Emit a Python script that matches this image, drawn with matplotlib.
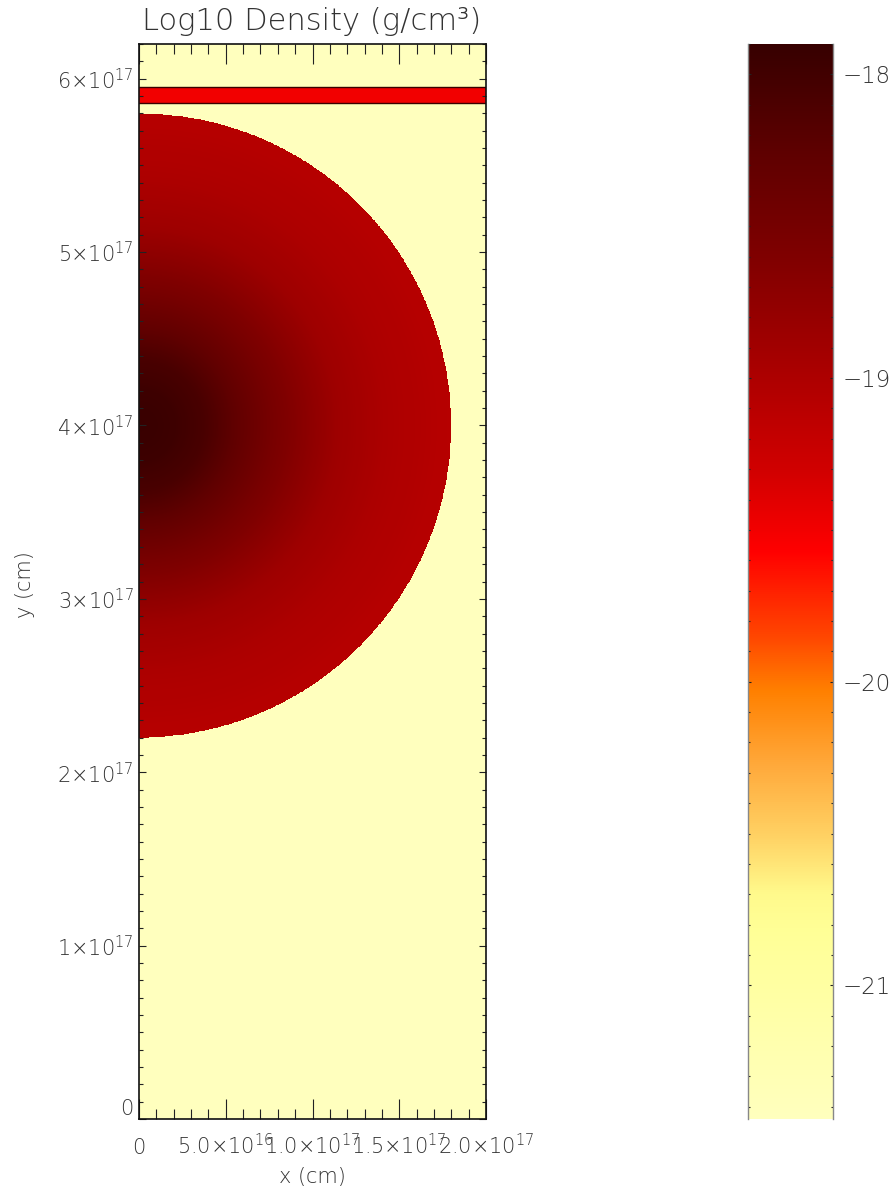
import numpy as np
import matplotlib
matplotlib.use("Agg")
import matplotlib.pyplot as plt
from matplotlib.colors import LinearSegmentedColormap
from matplotlib.ticker import MultipleLocator

plt.rcParams['font.family'] = ['DejaVu Sans']
plt.rcParams['font.weight'] = 'light'
plt.rcParams['mathtext.fontset'] = 'custom'
plt.rcParams['mathtext.rm'] = 'DejaVu Sans:light'
plt.rcParams['mathtext.it'] = 'DejaVu Sans:light'
plt.rcParams['mathtext.bf'] = 'DejaVu Sans:light'

# cloud: radial log-density profile (r in units of 1e17 cm)
profile_r = [0.0, 0.2, 0.38, 0.58, 0.77, 0.96, 1.15, 1.44, 1.8]
profile_logrho = [-17.92, -17.96, -18.07, -18.31, -18.52, -18.70, -18.87, -19.00, -19.08]
cloud_center = (0.0, 4.0e17)
cloud_radius = 1.8e17

# thin dense slab near the top boundary
slab_bounds = (5.86e17, 5.95e17)
slab_logrho = -19.50
ambient_logrho = -21.44

x_range = (0.0, 2.0e17)
y_range = (0.0, 6.2e17)
vmin, vmax = -21.44, -17.90

x_ticks = [0, 5e16, 1e17, 1.5e17, 2e17]
x_labels = ['0', '5.0×10$^{16}$', '1.0×10$^{17}$', '1.5×10$^{17}$', '2.0×10$^{17}$']
y_ticks = [0, 1e17, 2e17, 3e17, 4e17, 5e17, 6e17]
y_labels = ['0'] + ['%d×10$^{17}$' % i for i in range(1, 7)]
cbar_ticks = [-21, -20, -19, -18]
cbar_labels = ['\u221221', '\u221220', '\u221219', '\u221218']

# colour table stops (log density -> colour)
cmap_levels = [-21.44, -20.81, -20.70, -20.51, -20.28, -20.03, -19.85,
               -19.57, -19.31, -18.97, -18.60, -18.26, -17.90]
cmap_colors = ['#ffffbe', '#ffff96', '#fffa8c', '#ffd264', '#ffaa3c', '#ff8000',
               '#ff4600', '#ff0000', '#d20000', '#aa0000', '#800000', '#5f0000',
               '#370000']

pos = [(v - vmin) / (vmax - vmin) for v in cmap_levels]
cmap = LinearSegmentedColormap.from_list('dens', list(zip(pos, cmap_colors)), N=512)

# density grid
nx, ny = 800, 2480
xs = np.linspace(*x_range, nx)
ys = np.linspace(*y_range, ny)
X, Y = np.meshgrid(xs, ys)
R = np.hypot(X - cloud_center[0], Y - cloud_center[1])
field = np.full(X.shape, ambient_logrho)
inside = R <= cloud_radius
field[inside] = np.interp(R[inside] / 1e17, profile_r, profile_logrho)
field[(Y >= slab_bounds[0]) & (Y <= slab_bounds[1])] = slab_logrho

W, H = 893, 1192
fig = plt.figure(figsize=(W / 100, H / 100), dpi=100)
ax = fig.add_axes([139 / W, 73 / H, 347 / W, 1075 / H])
ax.imshow(field, origin='lower', extent=[*x_range, *y_range], cmap=cmap,
          vmin=vmin, vmax=vmax, interpolation='nearest', aspect='auto')
for yb in slab_bounds:
    ax.axhline(yb, color='#3a0000', lw=1.0)
ax.set_xlim(*x_range)
ax.set_ylim(*y_range)

tc = '#333333'
ax.set_xticks(x_ticks, x_labels)
ax.set_yticks(y_ticks, y_labels)
ax.xaxis.set_minor_locator(MultipleLocator(1e16))
ax.yaxis.set_minor_locator(MultipleLocator(1e16))
ax.tick_params(which='both', direction='in', top=True, right=True, colors='#222222',
               labelcolor=tc, labelsize=15, width=0.8)
ax.tick_params(axis='x', which='major', length=14.4, pad=25)
ax.tick_params(axis='x', which='minor', length=7.2)
ax.tick_params(axis='y', which='major', length=5, pad=4)
ax.tick_params(axis='y', which='minor', length=2.8)
# put all x labels on a common baseline, like the digits of "0"
plt.setp(ax.get_xticklabels(), va='baseline')
ax.get_yticklabels()[0].set_va('bottom')
for s in ax.spines.values():
    s.set_color('#111111')
    s.set_linewidth(1.2)

fig.text(312 / W, 1 - 21 / H, 'Log10 Density (g/cm³)', ha='center', va='center',
         fontsize=22, color=tc)
fig.text(312 / W, 1 - 1177 / H, 'x (cm)', ha='center', va='center', fontsize=15, color=tc)
fig.text(25 / W, 1 - 585 / H, 'y (cm)', ha='center', va='center', rotation=90,
         fontsize=15, color=tc)

# colour bar
cax = fig.add_axes([748 / W, 73 / H, 85 / W, 1075 / H])
grad = np.linspace(vmin, vmax, 1024).reshape(-1, 1)
cax.imshow(grad, origin='lower', extent=[0, 1, vmin, vmax], cmap=cmap,
           vmin=vmin, vmax=vmax, aspect='auto', interpolation='bilinear')
cax.set_xlim(0, 1)
cax.set_ylim(vmin, vmax)
cax.set_xticks([])
cax.set_yticks(cbar_ticks, cbar_labels)
cax.yaxis.set_minor_locator(MultipleLocator(0.1))
cax.yaxis.tick_right()
cax.tick_params(axis='y', which='both', direction='in', left=True, right=True,
                colors='#222222', labelcolor=tc, labelsize=16.5, width=0.8)
cax.tick_params(axis='y', which='major', length=2.5, pad=7)
cax.tick_params(axis='y', which='minor', length=1.5)
cax.spines['top'].set_visible(False)
cax.spines['bottom'].set_visible(False)
for side in ('left', 'right'):
    cax.spines[side].set_color('#888888')
    cax.spines[side].set_linewidth(1.0)

fig.savefig('out.png', dpi=100)
